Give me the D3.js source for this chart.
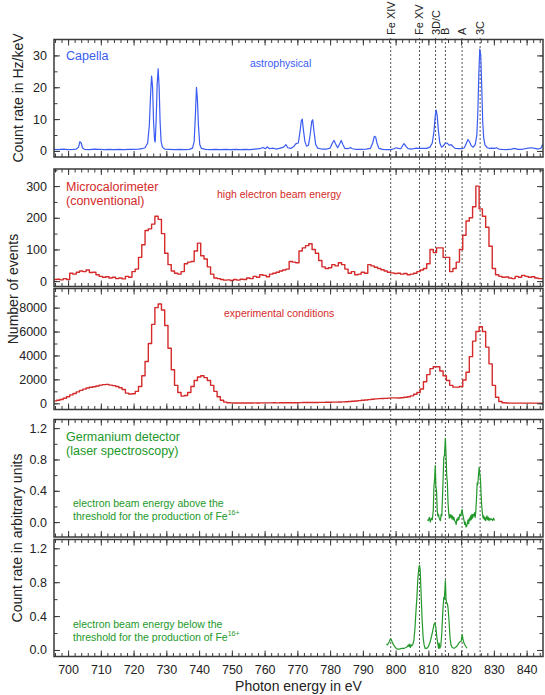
<!DOCTYPE html>
<html><head><meta charset="utf-8">
<script src="https://cdn.jsdelivr.net/npm/d3@7"></script>
<style>
body{margin:0;background:#fff;}
svg{display:block;font-family:"Liberation Sans",Arial,Helvetica,sans-serif;}
</style>
</head><body>
<svg id="chart" width="545" height="695"></svg>
<script>
// ---------------- DATA ----------------
const energyDomain = [695.7, 845];
const xTickValues = [700,710,720,730,740,750,760,770,780,790,800,810,820,830,840];
const lineEnergies = [798.5, 807.3, 812.2, 815.2, 820.3, 825.8];
const lineLabels = ["Fe XIV", "Fe XV", "3D/C", "B", "A", "3C"];

// Capella (astrophysical) spectrum: [energy eV, count rate Hz/keV]
const capellaSpectrum = [
[695.7,0.5],[697,0.4],[698.5,0.6],[700,0.4],[701.5,0.5],[702.5,0.6],[703.2,1.2],[703.6,2.9],[704.0,2.5],[704.4,1.0],[705,0.5],
[706.5,0.4],[708,0.6],[709.5,0.5],[711,0.4],[712.5,0.5],[714,0.4],[715.5,0.5],[717,0.4],[718.5,0.5],[720,0.5],[721.5,0.6],
[722.5,0.7],[723.5,1.0],[724.3,2.5],[724.8,8],[725.2,18],[725.5,23.5],[725.8,20],[726.1,9],[726.4,3.5],[726.6,2.8],[726.9,10],
[727.2,21],[727.5,25.8],[727.8,20],[728.1,9],[728.4,3],[728.8,1.2],[729.5,0.6],[731,0.5],[732.5,0.4],[734,0.5],[735.5,0.4],
[737,0.5],[738,0.9],[738.5,3],[738.9,12],[739.2,20],[739.5,16],[739.8,8],[740.2,2],[740.7,0.8],[742,0.5],[743.5,0.4],[745,0.5],
[746.5,0.4],[748,0.5],[749.5,0.4],[751,0.5],[752.5,0.4],[754,0.5],[755.5,0.4],[757,0.6],[758.5,0.7],[759.5,1.1],[760.2,0.7],
[760.8,1.3],[761.5,0.7],[762.5,0.9],[763.5,0.6],[764.5,0.8],[765.8,1.2],[766.5,2.0],[767.1,1.0],[768,0.8],[769,1.5],[769.6,2.3],
[770.3,2.5],[770.8,6],[771.2,9.5],[771.5,10],[771.8,7],[772.3,3],[772.8,1.5],[773.4,1.8],[773.9,5],[774.4,9.3],[774.7,9.8],
[775.1,6],[775.6,2],[776.2,0.9],[777.5,0.6],[779,0.6],[780,0.9],[780.7,2.5],[781.2,3.3],[781.7,2.2],[782.3,1.0],[782.9,2.2],
[783.4,3.3],[783.9,2.0],[784.5,0.8],[785.5,0.7],[786.2,1.1],[786.8,0.7],[788,0.5],[789.5,0.5],[791,0.6],[792.3,0.8],[793,2.5],
[793.5,4.6],[793.9,4.4],[794.3,2.5],[794.9,0.8],[796,0.5],[797.5,0.4],[798.5,0.4],[799.5,0.7],[800.2,1.0],[800.8,0.8],[801.6,0.7],
[802.2,1.8],[802.6,2.3],[803.1,1.5],[803.8,0.7],[805,0.6],[806.3,0.9],[807.2,0.8],[808.5,0.8],[809.5,0.8],[810.5,1.2],[811.2,2.5],
[811.7,6],[812.1,11],[812.4,12.8],[812.7,11],[813.1,6],[813.5,2.5],[814,1.2],[814.6,1.6],[815.2,2.5],[815.8,2.4],[816.4,1.8],
[817,2.0],[817.5,1.4],[818.2,0.8],[819.2,0.7],[820.2,0.7],[821,1.0],[821.6,2.4],[822.1,3.6],[822.6,2.8],[823.1,1.6],[823.7,1.2],
[824.3,2.0],[824.8,5],[825.1,12],[825.4,24],[825.7,32],[826,30],[826.3,20],[826.6,9],[826.9,4],[827.3,1.8],[828,1.0],[828.7,0.8],
[829.5,0.9],[830.2,0.8],[830.8,1.0],[831.5,0.6],[832.5,0.5],[834,0.4],[835.3,0.6],[836.3,0.8],[837.3,0.5],[838.5,0.5],[839.5,0.7],
[840.5,0.9],[841.5,1.0],[842.5,0.8],[843.5,0.6],[844.3,0.8],[844.7,1.6],[845,2.2]
];

// Microcalorimeter histograms: 1 eV bins, first bin starts at 695.5 eV
const calBinStart = 695.5;
const calBinWidth = 1;
const calHighBeamEvents = [
5,6,4,8,5,25,22,28,32,30,
35,27,28,20,15,12,14,10,12,8,
10,7,15,12,30,38,75,115,160,165,
180,205,195,150,88,52,32,25,22,30,
55,60,62,95,120,80,70,45,22,10,
8,5,3,4,2,5,3,6,5,10,
8,15,12,20,18,14,22,25,28,32,
35,38,62,60,58,95,105,112,118,100,
88,65,45,40,42,52,48,58,52,38,
25,30,20,22,28,25,52,48,44,40,
36,32,28,26,24,25,22,24,20,22,
25,30,35,40,55,100,90,105,105,75,
75,30,40,60,100,145,190,200,235,300,
228,205,170,110,40,20,15,12,13,10,
8,15,12,18,15,12,14,10,8,8
];
const calExperimentalEvents = [
200,250,320,420,550,700,820,950,1080,1180,
1280,1340,1380,1450,1520,1560,1580,1520,1480,1400,
1300,1150,850,780,800,1000,1400,2300,3500,5000,
6600,8000,8300,7800,6500,4600,2800,1500,900,600,
650,900,1400,1900,2200,2300,2150,1900,1500,1000,
550,250,100,50,30,25,20,20,25,20,
25,30,25,30,35,30,35,40,35,40,
45,40,45,50,50,55,60,60,65,70,
70,75,80,85,90,95,100,110,120,130,
150,170,190,220,250,280,310,340,370,390,
400,410,430,450,450,440,460,500,550,620,
750,900,1200,1800,2400,2900,3050,3050,2700,2300,
1900,1500,1350,1350,1400,1950,2600,3900,5200,6000,
6400,6000,4700,3300,1500,500,150,50,20,15,
10,10,10,10,10,10,10,10,10,10
];

// Germanium detector (laser spectroscopy): [energy eV, arbitrary units]
const geAboveThreshold = [
[809.7,0.03],[810.0,0.02],[810.3,0.06],[810.6,0.0],[810.9,0.05],[811.2,0.03],[811.5,0.15],[811.7,0.45],[811.9,0.55],[812.1,0.72],
[812.3,0.45],[812.5,0.4],[812.7,0.15],[812.9,0.08],[813.1,0.1],[813.3,0.05],[813.5,0.03],[813.7,0.02],[813.9,0.1],[814.1,0.08],
[814.3,0.3],[814.5,0.55],[814.7,0.82],[814.9,0.85],[815.1,1.0],[815.2,1.07],[815.4,0.85],[815.6,0.6],[815.8,0.5],[816.0,0.25],
[816.2,0.12],[816.4,0.05],[816.6,0.1],[816.8,0.06],[817.0,0.09],[817.2,0.04],[817.4,0.08],[817.6,0.03],[817.8,0.06],[818.0,0.02],
[818.3,0.0],[818.5,-0.03],[818.7,0.04],[818.9,0.02],[819.1,0.06],[819.3,0.03],[819.6,0.1],[819.9,0.08],[820.1,0.12],[820.3,0.16],
[820.5,0.1],[820.7,0.06],[820.9,0.02],[821.1,-0.03],[821.3,0.0],[821.5,-0.06],[821.7,-0.05],[821.9,-0.02],[822.1,0.03],[822.3,-0.02],
[822.5,0.05],[822.7,0.02],[822.9,0.08],[823.1,0.03],[823.3,0.1],[823.5,0.05],[823.7,0.1],[823.9,0.08],[824.1,0.12],[824.3,0.06],
[824.5,0.15],[824.7,0.3],[824.9,0.5],[825.1,0.48],[825.3,0.6],[825.5,0.7],[825.7,0.62],[825.9,0.55],[826.1,0.35],[826.3,0.2],
[826.5,0.12],[826.7,0.05],[826.9,0.08],[827.1,0.03],[827.3,0.06],[827.5,0.02],[827.7,0.05],[827.9,0.08],[828.1,0.03],[828.3,0.06],
[828.5,0.02],[828.8,0.05],[829.0,0.03],[829.3,0.04],[829.6,0.02],[829.9,0.05],[830.2,0.02]
];
const geBelowThreshold = [
[797.2,0.07],[797.5,0.06],[797.8,0.08],[798.1,0.1],[798.4,0.13],[798.7,0.12],[799.0,0.09],[799.4,0.06],[799.9,0.03],[800.5,0.01],
[801.2,0.01],[801.9,0.02],[802.6,0.02],[803.2,0.03],[803.6,0.04],[803.9,0.06],[804.1,0.04],[804.3,0.07],[804.5,0.03],[804.8,0.06],
[805.0,0.05],[805.3,0.07],[805.6,0.12],[805.9,0.25],[806.2,0.45],[806.5,0.62],[806.8,0.85],[807.1,0.97],[807.3,1.0],[807.5,0.95],
[807.8,0.65],[808.1,0.35],[808.4,0.15],[808.7,0.06],[809.0,0.02],[809.5,0.02],[810.0,0.04],[810.5,0.09],[810.9,0.15],[811.3,0.22],
[811.7,0.3],[812.0,0.32],[812.3,0.26],[812.6,0.15],[812.9,0.07],[813.1,0.02],[813.3,0.08],[813.5,0.02],[813.8,0.05],[814.1,0.2],
[814.4,0.45],[814.7,0.62],[814.9,0.6],[815.1,0.75],[815.2,0.82],[815.4,0.6],[815.6,0.55],[815.8,0.55],[816.0,0.5],[816.3,0.35],
[816.6,0.15],[816.9,0.06],[817.3,0.03],[817.8,0.02],[818.3,0.03],[818.8,0.05],[819.3,0.08],[819.7,0.1],[820.0,0.1],[820.3,0.18],
[820.6,0.12],[820.9,0.08],[821.3,0.05],[821.8,0.02]
];

const p1Ticks = [0,10,20,30];
const p2Ticks = [0,100,200,300];
const p3Ticks = [0,2000,4000,6000,8000];
const geTicks = [0.0,0.4,0.8,1.2];

// ---------------- LAYOUT ----------------
const svg = d3.select("#chart");
const L = 54, R = 543;
const x = d3.scaleLinear().domain(energyDomain).range([L, R]);

const BLUE = "#3a5cf2", RED = "#d42a2a", GREEN = "#22992a";
const FRAME = "#3a3a3a", TXT = "#222";

function histPoints(values) {
  const pts = values.map((v, i) => [calBinStart + i * calBinWidth, v]);
  pts.push([calBinStart + values.length * calBinWidth, values[values.length - 1]]);
  return pts;
}

const panels = [
  {id:"p1", top:39.5, bottom:157, domain:[-1.9,35], ticks:p1Ticks, minor:d3.range(0,35,5), fmt:d3.format("d"),
   data:capellaSpectrum, color:BLUE, step:false},
  {id:"p2", top:169, bottom:286.5, domain:[-17,354], ticks:p2Ticks, minor:d3.range(0,351,50), fmt:d3.format("d"),
   data:histPoints(calHighBeamEvents), color:RED, step:true},
  {id:"p3", top:288.5, bottom:409.5, domain:[-520,9600], ticks:p3Ticks, minor:d3.range(0,9600,1000), fmt:d3.format("d"),
   data:histPoints(calExperimentalEvents), color:RED, step:true},
  {id:"p4", top:419.5, bottom:537, domain:[-0.19,1.31], ticks:geTicks, minor:d3.range(0,1.3,0.2), fmt:d3.format(".1f"),
   data:geAboveThreshold, color:GREEN, step:false},
  {id:"p5", top:539.5, bottom:656.5, domain:[-0.077,1.304], ticks:geTicks, minor:d3.range(0,1.3,0.2), fmt:d3.format(".1f"),
   data:geBelowThreshold, color:GREEN, step:false, xLabels:true}
];

const xMinor = d3.range(696, 845, 2);
const defs = svg.append("defs");

// dotted reference lines and their labels
const ref = svg.append("g");
lineEnergies.forEach((e, i) => {
  ref.append("line").attr("x1", x(e)).attr("x2", x(e)).attr("y1", 38).attr("y2", 656.5)
    .attr("stroke", "#555").attr("stroke-width", 1).attr("stroke-dasharray", "2,2");
  svg.append("text").attr("transform", `translate(${x(e)},35) rotate(-90)`)
    .attr("dy", "0.36em").attr("font-size", 11).attr("fill", TXT).text(lineLabels[i]);
});

panels.forEach(p => {
  const y = d3.scaleLinear().domain(p.domain).range([p.bottom, p.top]);
  const g = svg.append("g");
  defs.append("clipPath").attr("id", "clip-" + p.id).append("rect")
    .attr("x", L).attr("y", p.top).attr("width", R - L).attr("height", p.bottom - p.top);

  // data
  const line = d3.line().x(d => x(d[0])).y(d => y(d[1]));
  if (p.step) line.curve(d3.curveStepAfter);
  g.append("path").datum(p.data).attr("d", line).attr("fill", "none")
    .attr("stroke", p.color).attr("stroke-width", p.step ? 1.4 : 1.2)
    .attr("stroke-linejoin", "round").attr("clip-path", `url(#clip-${p.id})`);

  // x ticks (bottom & top, inward)
  const axB = d3.axisBottom(x).tickValues(xTickValues).tickSizeInner(-6).tickSizeOuter(0).tickPadding(9)
    .tickFormat(p.xLabels ? d3.format("d") : "");
  const axBm = d3.axisBottom(x).tickValues(xMinor).tickSizeInner(-3.5).tickSizeOuter(0).tickFormat("");
  const axT = d3.axisTop(x).tickValues(xTickValues).tickSizeInner(-6).tickSizeOuter(0).tickFormat("");
  const axTm = d3.axisTop(x).tickValues(xMinor).tickSizeInner(-3.5).tickSizeOuter(0).tickFormat("");
  [[axB, p.bottom], [axBm, p.bottom], [axT, p.top], [axTm, p.top]].forEach(([ax, yy]) => {
    const a = g.append("g").attr("transform", `translate(0,${yy})`).call(ax);
    a.select(".domain").remove();
    a.selectAll("line").attr("stroke", FRAME).attr("stroke-width", 1);
    a.selectAll("text").attr("font-size", 12.5).attr("fill", TXT).attr("font-family", null);
  });

  // y ticks (left & right, inward)
  const axL = d3.axisLeft(y).tickValues(p.ticks).tickSizeInner(-6).tickSizeOuter(0).tickPadding(7).tickFormat(p.fmt);
  const axLm = d3.axisLeft(y).tickValues(p.minor).tickSizeInner(-3.5).tickSizeOuter(0).tickFormat("");
  const axR = d3.axisRight(y).tickValues(p.ticks).tickSizeInner(-6).tickSizeOuter(0).tickFormat("");
  const axRm = d3.axisRight(y).tickValues(p.minor).tickSizeInner(-3.5).tickSizeOuter(0).tickFormat("");
  [[axL, L], [axLm, L], [axR, R], [axRm, R]].forEach(([ax, xx]) => {
    const a = g.append("g").attr("transform", `translate(${xx},0)`).call(ax);
    a.select(".domain").remove();
    a.selectAll("line").attr("stroke", FRAME).attr("stroke-width", 1);
    a.selectAll("text").attr("font-size", 12.5).attr("fill", TXT).attr("font-family", null);
  });

  // frame
  g.append("rect").attr("x", L).attr("y", p.top).attr("width", R - L).attr("height", p.bottom - p.top)
    .attr("fill", "none").attr("stroke", FRAME).attr("stroke-width", 1.5);
});

// axis titles
function vTitle(txt, cx, cy) {
  svg.append("text").attr("transform", `translate(${cx},${cy}) rotate(-90)`)
    .attr("text-anchor", "middle").attr("dy", "0.35em").attr("font-size", 14).attr("fill", TXT).text(txt);
}
vTitle("Count rate in Hz/keV", 18, 98);
vTitle("Number of events", 13, 289);
vTitle("Count rate in arbitrary units", 17, 538);
svg.append("text").attr("x", (L + R) / 2).attr("y", 691).attr("text-anchor", "middle")
  .attr("font-size", 14).attr("fill", TXT).text("Photon energy in eV");

// annotations
function note(txt, xx, yy, color, size) {
  return svg.append("text").attr("x", xx).attr("y", yy).attr("font-size", size).attr("fill", color).text(txt);
}
note("Capella", 66, 60, BLUE, 12.5);
note("astrophysical", 250, 67, BLUE, 10.5);
note("Microcalorimeter", 66, 191, RED, 12.5);
note("(conventional)", 66, 204.5, RED, 12.5);
note("high electron beam energy", 217, 198, RED, 10.5);
note("experimental conditions", 224, 317, RED, 10.5);
note("Germanium detector", 66, 441, GREEN, 12.5);
note("(laser spectroscopy)", 66, 454.5, GREEN, 12.5);
note("electron beam energy above the", 73, 507, GREEN, 10.5);
let t1 = note("threshold for the production of Fe", 73, 520, GREEN, 10.5);
t1.append("tspan").attr("dy", -5).attr("font-size", 7).text("16+");
note("electron beam energy below the", 73, 628, GREEN, 10.5);
let t2 = note("threshold for the production of Fe", 73, 641, GREEN, 10.5);
t2.append("tspan").attr("dy", -5).attr("font-size", 7).text("16+");
</script>
</body></html>
